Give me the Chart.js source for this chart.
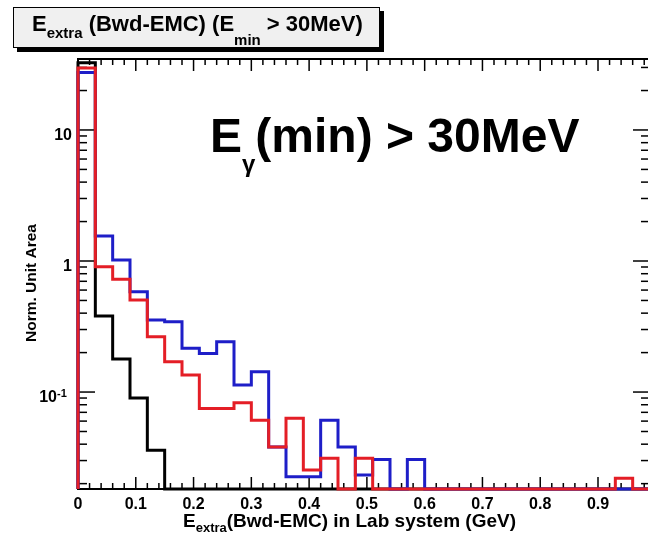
<!DOCTYPE html>
<html>
<head>
<meta charset="utf-8">
<title>E_extra (Bwd-EMC)</title>
<script src="https://cdn.jsdelivr.net/npm/chart.js@4.4.1/dist/chart.umd.min.js"></script>
<style>
  html, body { margin: 0; padding: 0; background: #fff; overflow: hidden; }
  /* frame runs to 0.99 GeV, a few px past the window edge, like the cropped original */
  #wrap { position: relative; width: 656px; height: 536px; }
</style>
</head>
<body>
<div id="wrap"><canvas id="c"></canvas></div>
<script>
// Histogram: 33 bins of 0.03 GeV, normalised to unit area. 0 = empty bin.
const BIN_W = 0.03;
const X_MAX = 0.99;
const Y_MIN = 0.0182, Y_MAX = 34.8;

const histBlack = [32.6, 0.38, 0.179, 0.090, 0.036,
  0, 0, 0, 0, 0, 0, 0, 0, 0, 0, 0, 0, 0, 0, 0, 0, 0, 0, 0, 0, 0, 0, 0, 0, 0, 0, 0, 0];
const histBlue = [27.4, 1.55, 1.02, 0.583, 0.355, 0.344, 0.216, 0.197, 0.242, 0.113,
  0.143, 0.038, 0.0226, 0.0226, 0.061, 0.038, 0.0233, 0.0306, 0, 0.0306,
  0, 0, 0, 0, 0, 0, 0, 0, 0, 0, 0, 0, 0];
const histRed = [29.7, 0.905, 0.725, 0.504, 0.264, 0.170, 0.135, 0.075, 0.075, 0.083,
  0.061, 0.038, 0.063, 0.0254, 0.0312, 0, 0.0312, 0, 0, 0,
  0, 0, 0, 0, 0, 0, 0, 0, 0, 0, 0, 0.022, 0];

const xMajor = [0, 0.1, 0.2, 0.3, 0.4, 0.5, 0.6, 0.7, 0.8, 0.9];
const xLabels = ["0", "0.1", "0.2", "0.3", "0.4", "0.5", "0.6", "0.7", "0.8", "0.9"];
const yMajor = [0.1, 1, 10];

const FONT = '"Liberation Sans", Arial, Helvetica, sans-serif';

// bin contents -> step outline; empty bins sit on the frame bottom
function histPoints(vals) {
  const pts = [{ x: 0, y: Y_MIN }];
  vals.forEach((v, i) => pts.push({ x: i * BIN_W, y: v > 0 ? v : Y_MIN }));
  pts.push({ x: vals.length * BIN_W, y: Y_MIN });
  return pts;
}

function drawRuns(ctx, x, y, runs) {
  for (const [t, size, dy] of runs) {
    ctx.font = `bold ${size}px ${FONT}`;
    ctx.fillText(t, x, y + dy);
    x += ctx.measureText(t).width;
  }
  return x;
}

const rootFrame = {
  id: "rootFrame",
  beforeDatasetsDraw(chart) {
    const { ctx, chartArea: a, scales: { x, y } } = chart;
    ctx.save();
    ctx.strokeStyle = "#000";
    ctx.lineWidth = 2;
    ctx.strokeRect(a.left, a.top, a.right - a.left, a.bottom - a.top);

    const seg = (x1, y1, x2, y2) => { ctx.beginPath(); ctx.moveTo(x1, y1); ctx.lineTo(x2, y2); ctx.stroke(); };
    ctx.lineWidth = 1.5;
    // x ticks: major every 0.1, minor every 0.02, on bottom and top
    for (let i = 0; i * 0.02 <= X_MAX + 1e-9; i++) {
      const px = x.getPixelForValue(i * 0.02);
      const len = i % 5 === 0 ? 12 : 6;
      seg(px, a.bottom, px, a.bottom - len);
      seg(px, a.top, px, a.top + len);
    }
    // y ticks: log decades
    for (let d = -2; d <= 1; d++) {
      for (let k = 1; k <= 9; k++) {
        const v = k * Math.pow(10, d);
        if (v < Y_MIN || v > Y_MAX) continue;
        const py = y.getPixelForValue(v);
        const len = k === 1 ? 17 : 9;
        seg(a.left, py, a.left + len, py);
        seg(a.right, py, a.right - len, py);
      }
    }

    // tick labels
    ctx.fillStyle = "#000";
    ctx.textBaseline = "alphabetic";
    ctx.font = `bold 16px ${FONT}`;
    ctx.textAlign = "center";
    xMajor.forEach((v, i) => ctx.fillText(xLabels[i], x.getPixelForValue(v), a.bottom + 20));
    ctx.textAlign = "right";
    ctx.fillText("10", a.left - 6, y.getPixelForValue(10) + 10);
    ctx.fillText("1", a.left - 6, y.getPixelForValue(1) + 10);
    const p01 = y.getPixelForValue(0.1) + 10;
    ctx.fillText("10", 57, p01);
    ctx.textAlign = "left";
    ctx.font = `bold 11px ${FONT}`;
    ctx.fillText("-1", 57, p01 - 5);

    // axis titles
    ctx.textAlign = "left";
    drawRuns(ctx, 183, 527, [["E", 19, 0], ["extra", 13, 5], ["(Bwd-EMC) in Lab system (GeV)", 19, 0]]);
    ctx.save();
    ctx.translate(32, 283);
    ctx.rotate(-Math.PI / 2);
    ctx.textAlign = "center";
    ctx.textBaseline = "middle";
    ctx.font = `bold 15.5px ${FONT}`;
    ctx.fillText("Norm. Unit Area", 0, 0);
    ctx.restore();

    // title box with shadow
    ctx.fillStyle = "#000";
    ctx.fillRect(17, 11, 367, 41);
    ctx.fillStyle = "#f0f0f0";
    ctx.fillRect(13, 7, 367, 41);
    ctx.lineWidth = 1;
    ctx.strokeRect(13.5, 7.5, 366, 40);
    ctx.fillStyle = "#000";
    ctx.textAlign = "left";
    drawRuns(ctx, 32, 31, [["E", 22, 0], ["extra", 15, 7], [" (Bwd-EMC) (E", 22, 0],
                           ["min", 15, 14], [" > 30MeV)", 22, 0]]);

    // cut label inside the pad
    drawRuns(ctx, 210, 152, [["E", 48, 0], ["\u03b3", 24, 20], ["(min) > 30MeV", 48, 0]]);
    ctx.restore();
  },
};

const dsBase = { stepped: "before", borderWidth: 3, pointRadius: 0, fill: false,
                 borderJoinStyle: "miter", borderCapStyle: "butt", clip: 4, tension: 0 };

new Chart(document.getElementById("c"), {
  type: "line",
  data: {
    datasets: [
      { ...dsBase, label: "red",   data: histPoints(histRed),   borderColor: "#e41e26", order: 1 },
      { ...dsBase, label: "blue",  data: histPoints(histBlue),  borderColor: "#1e1ec8", order: 2 },
      { ...dsBase, label: "black", data: histPoints(histBlack), borderColor: "#000000", order: 3 },
    ],
  },
  options: {
    responsive: true,
    maintainAspectRatio: false,
    animation: false,
    parsing: false,
    layout: { padding: { left: 78, top: 59, right: 6, bottom: 47 } },
    plugins: { legend: { display: false }, tooltip: { enabled: false } },
    scales: {
      x: { type: "linear", min: 0, max: X_MAX, display: false },
      y: { type: "logarithmic", min: Y_MIN, max: Y_MAX, display: false },
    },
  },
  plugins: [rootFrame],
});
</script>
</body>
</html>
